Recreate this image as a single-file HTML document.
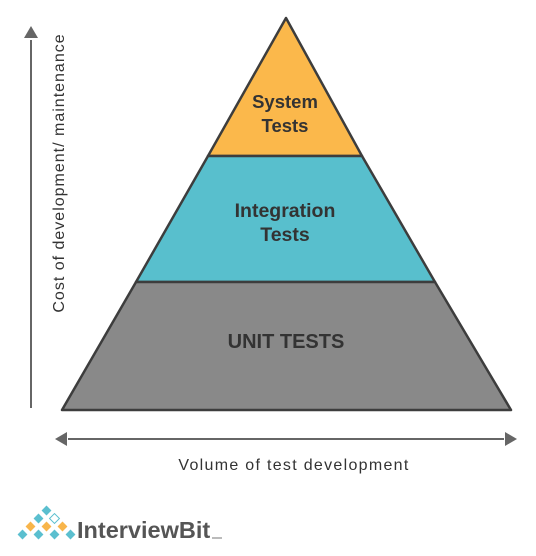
<!DOCTYPE html>
<html><head><meta charset="utf-8"><style>
html,body{margin:0;padding:0;background:#fff;}
svg{display:block;font-family:"Liberation Sans",sans-serif;}
</style></head><body>
<svg width="536" height="556" viewBox="0 0 536 556" xmlns="http://www.w3.org/2000/svg">
<polygon points="286,18 208,156 362,156" fill="#fbb84b" stroke="#3d3d3d" stroke-width="2.5" stroke-linejoin="round"/>
<polygon points="208,156 362,156 435,282 136,282" fill="#58bfcd" stroke="#3d3d3d" stroke-width="2.5" stroke-linejoin="round"/>
<polygon points="136,282 435,282 511,410 62,410" fill="#898989" stroke="#3d3d3d" stroke-width="2.5" stroke-linejoin="round"/>
<g font-weight="bold" fill="#333" text-anchor="middle">
<text x="285" y="108" font-size="18.5">System</text>
<text x="285" y="132" font-size="18.5">Tests</text>
<text x="285" y="217" font-size="19.5">Integration</text>
<text x="285" y="241" font-size="19.5">Tests</text>
<text x="286" y="348" font-size="20">UNIT TESTS</text>
</g>
<line x1="31" y1="40" x2="31" y2="408" stroke="#666" stroke-width="2"/>
<polygon points="31,26 24,38 38,38" fill="#666"/>
<line x1="68" y1="439" x2="504" y2="439" stroke="#666" stroke-width="2"/>
<polygon points="55,439 67,432 67,446" fill="#666"/>
<polygon points="517,439 505,432 505,446" fill="#666"/>
<text x="294" y="470" font-size="16" letter-spacing="1.3" fill="#333" text-anchor="middle">Volume of test development</text>
<text transform="translate(64,173) rotate(-90)" font-size="16" letter-spacing="1" fill="#333" text-anchor="middle">Cost of development/ maintenance</text>
<g>
<g fill="#5bbfcf">
<rect x="43" y="507" width="7" height="7" transform="rotate(45 46.5 510.5)"/>
<rect x="35" y="515" width="7" height="7" transform="rotate(45 38.5 518.5)"/>
<rect x="51" y="515" width="7" height="7" transform="rotate(45 54.5 518.5)" fill="#fff" stroke="#5bbfcf" stroke-width="1"/>
<rect x="19" y="531" width="7" height="7" transform="rotate(45 22.5 534.5)"/>
<rect x="35" y="531" width="7" height="7" transform="rotate(45 38.5 534.5)"/>
<rect x="51" y="531" width="7" height="7" transform="rotate(45 54.5 534.5)"/>
<rect x="67" y="531" width="7" height="7" transform="rotate(45 70.5 534.5)"/>
</g>
<g fill="#f8b54b">
<rect x="27" y="523" width="7" height="7" transform="rotate(45 30.5 526.5)"/>
<rect x="43" y="523" width="7" height="7" transform="rotate(45 46.5 526.5)"/>
<rect x="59" y="523" width="7" height="7" transform="rotate(45 62.5 526.5)"/>
</g>
<text x="77" y="538" font-size="23.5" font-weight="bold" fill="#555">InterviewBit</text>
<line x1="212" y1="538" x2="222" y2="538" stroke="#777" stroke-width="1"/>
</g>
</svg>
</body></html>
